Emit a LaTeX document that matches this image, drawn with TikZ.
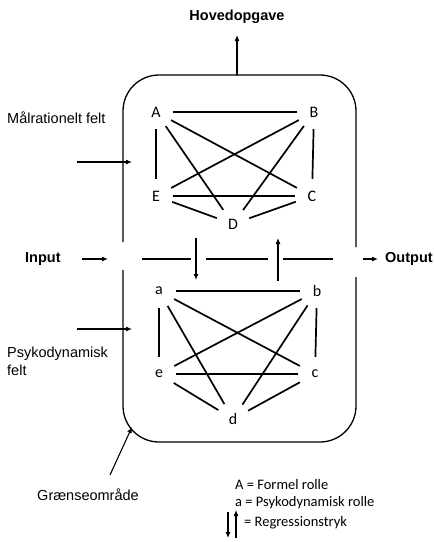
\documentclass[tikz,border=0pt]{standalone}
\usepackage{fontspec}
\setmainfont{Liberation Sans}
\newfontfamily\rollefont{Carlito}
\usetikzlibrary{arrows.meta}

\tikzset{
	felt/.style={font=\fontsize{14.5}{18}\selectfont, inner sep=0pt},
	fed/.style={font=\bfseries\fontsize{14.5}{18}\selectfont, inner sep=0pt},
	rolle/.style={circle, minimum size=34pt, inner sep=0pt, font=\rollefont\fontsize{16}{18}\selectfont},
	legende/.style={anchor=west, inner sep=0pt, font=\rollefont\fontsize{14.5}{18}\selectfont},
	forbindelse/.style={line width=1.7pt},
	pil/.style={-{Latex[length=6pt,width=5pt]}, line width=1.1pt}
}

\begin{document}
\begin{tikzpicture}[x=1pt, y=-1pt]

		\useasboundingbox (0,0) rectangle (434,542);
		
		% graenseomraadet
		\draw[line width=1.3pt, rounded corners=36pt] (123,242) -- (123,75) -- (356,75) -- (356,247);
		\draw[line width=1.3pt, rounded corners=36pt] (123,270) -- (123,442) -- (356,442) -- (356,277);
		
		% formelle roller
		\node[rolle] (A) at (156,112) {A};
		\node[rolle] (B) at (314,112) {B};
		\node[rolle] (C) at (312,196) {C};
		\node[rolle] (D) at (233,224) {D};
		\node[rolle] (E) at (156,196) {E};
		
		\draw[forbindelse] (A) -- (B);
		\draw[forbindelse] (A) -- (E);
		\draw[forbindelse] (A) -- (C);
		\draw[forbindelse] (A) -- (D);
		\draw[forbindelse] (B) -- (E);
		\draw[forbindelse] (B) -- (D);
		\draw[forbindelse] (B) -- (C);
		\draw[forbindelse] (E) -- (C);
		\draw[forbindelse] (E) -- (D);
		\draw[forbindelse] (D) -- (C);
		
		% psykodynamiske roller
		\node[rolle] (a) at (159,291) {a};
		\node[rolle] (b) at (317,291) {b};
		\node[rolle] (c) at (315,374) {c};
		\node[rolle] (d) at (233,419) {d};
		\node[rolle] (e) at (159,374) {e};
		
		\draw[forbindelse] (a) -- (b);
		\draw[forbindelse] (a) -- (e);
		\draw[forbindelse] (a) -- (c);
		\draw[forbindelse] (a) -- (d);
		\draw[forbindelse] (b) -- (e);
		\draw[forbindelse] (b) -- (d);
		\draw[forbindelse] (b) -- (c);
		\draw[forbindelse] (e) -- (c);
		\draw[forbindelse] (e) -- (d);
		\draw[forbindelse] (d) -- (c);
		
		% hovedopgave
		\node[fed] (hoved) at (237,17) {Hovedopgave};
		\coordinate (hovedfod) at (237,75);
		\coordinate (hovedtop) at (237,35);
		\draw[pil] (hovedfod) -- (hovedtop);
		
		% input og output
		\node[fed, anchor=west] (input) at (25,259) {Input};
		\node[fed, anchor=west] (output) at (385,259) {Output};
		\coordinate (ind1) at (82,259);
		\coordinate (ind2) at (108,259);
		\coordinate (ud1) at (363,259);
		\draw[pil] (ind1) -- (ind2);
		\draw[pil, shorten >=7pt] (ud1) -- (output.west);
		
		\draw[line width=1.1pt] (142,259) -- (191,259) (206,259) -- (268,259) (283,259) -- (333,259);
		
		% regressionstryk
		\coordinate (ned1) at (196,238);
		\coordinate (ned2) at (196,280);
		\coordinate (op1) at (278,281);
		\coordinate (op2) at (278,238);
		\draw[pil] (ned1) -- (ned2);
		\draw[pil] (op1) -- (op2);
		
		% felter
		\node[felt, anchor=west] (maal) at (7,118) {Målrationelt felt};
		\node[felt, anchor=west, align=left] (psyko) at (7,361) {Psykodynamisk\\felt};
		\node[felt] (graense) at (88,495) {Grænseområde};
		\coordinate (maal1) at (77,162);
		\coordinate (maal2) at (132,162);
		\coordinate (psyko1) at (77,329);
		\coordinate (psyko2) at (132,329);
		\coordinate (graense1) at (110,475);
		\coordinate (graense2) at (132,427);
		\draw[pil] (maal1) -- (maal2);
		\draw[pil] (psyko1) -- (psyko2);
		\draw[pil] (graense1) -- (graense2);
		
		% forklaring
		\node[legende] (legA) at (235,485) {A = Formel rolle};
		\node[legende] (lega) at (235,503) {a = Psykodynamisk rolle};
		\node[legende] (legpil) at (244,523) {= Regressionstryk};
		\coordinate (legned1) at (228,512);
		\coordinate (legned2) at (228,538);
		\coordinate (legop1) at (236,538);
		\coordinate (legop2) at (236,510);
		\draw[pil] (legned1) -- (legned2);
		\draw[pil] (legop1) -- (legop2);

\end{tikzpicture}
\end{document}
